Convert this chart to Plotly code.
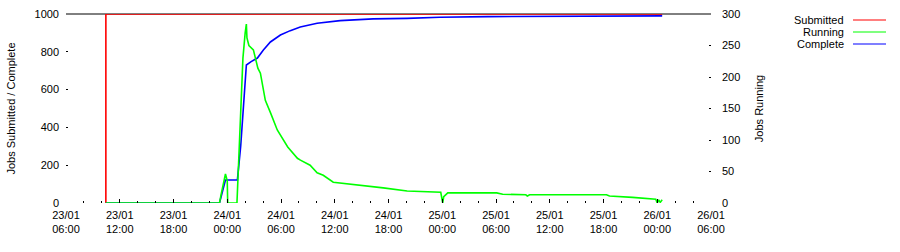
import plotly.graph_objects as go

# ---------------- data ----------------
series_names = ["Submitted", "Running", "Complete"]
series_colors = ["#ff0000", "#00ff00", "#0000ff"]

submitted_t = ["2009-01-23 10:27:00", "2009-01-23 10:27:01", "2009-01-26 00:33:00"]
submitted_v = [0, 1000, 1000]

running_t = [
    "2009-01-23 10:27", "2009-01-23 23:08", "2009-01-23 23:20", "2009-01-23 23:35",
    "2009-01-23 23:48", "2009-01-24 00:00", "2009-01-24 00:03", "2009-01-24 01:05",
    "2009-01-24 01:15", "2009-01-24 01:30", "2009-01-24 01:45", "2009-01-24 02:00",
    "2009-01-24 02:08", "2009-01-24 02:12", "2009-01-24 02:25", "2009-01-24 02:55",
    "2009-01-24 03:25", "2009-01-24 03:42", "2009-01-24 04:15", "2009-01-24 04:50",
    "2009-01-24 05:35", "2009-01-24 06:45", "2009-01-24 07:10", "2009-01-24 07:50",
    "2009-01-24 08:10", "2009-01-24 09:15", "2009-01-24 10:02", "2009-01-24 10:43",
    "2009-01-24 11:50", "2009-01-24 14:30", "2009-01-24 17:25", "2009-01-24 20:05",
    "2009-01-24 22:40", "2009-01-24 23:50", "2009-01-25 00:03", "2009-01-25 00:10",
    "2009-01-25 00:37", "2009-01-25 06:05", "2009-01-25 06:45", "2009-01-25 09:20",
    "2009-01-25 09:30", "2009-01-25 09:45", "2009-01-25 18:20", "2009-01-25 18:40",
    "2009-01-25 21:15", "2009-01-25 22:45", "2009-01-25 23:50", "2009-01-26 00:00",
    "2009-01-26 00:10", "2009-01-26 00:20", "2009-01-26 00:33",
]
running_v = [
    0, 0, 15, 30,
    46, 35, 0, 0,
    60, 150, 230, 270,
    284, 262, 250, 243,
    214, 206, 163, 143,
    116, 89, 82, 71,
    68, 60, 48, 44,
    33, 29, 24, 19,
    18, 17, 0, 10,
    16, 16, 14, 13,
    11, 13, 13, 11,
    9, 7, 6, 0,
    5, 1, 5,
]

complete_t = [
    "2009-01-23 10:27", "2009-01-23 23:08", "2009-01-23 23:48", "2009-01-24 01:08",
    "2009-01-24 01:30", "2009-01-24 01:50", "2009-01-24 02:08", "2009-01-24 02:40",
    "2009-01-24 03:22", "2009-01-24 04:02", "2009-01-24 04:49", "2009-01-24 05:56",
    "2009-01-24 07:02", "2009-01-24 08:09", "2009-01-24 09:16", "2009-01-24 10:02",
    "2009-01-24 12:36", "2009-01-24 16:17", "2009-01-24 20:04", "2009-01-24 23:44",
    "2009-01-25 05:04", "2009-01-25 17:30", "2009-01-26 00:33",
]
complete_v = [
    0, 0, 122, 122,
    300, 560, 730, 748,
    767, 810, 852, 889,
    912, 931, 942, 951,
    965, 974, 977, 983,
    986, 988, 990,
]

x_tick_vals = [
    "2009-01-23 06:00", "2009-01-23 12:00", "2009-01-23 18:00", "2009-01-24 00:00",
    "2009-01-24 06:00", "2009-01-24 12:00", "2009-01-24 18:00", "2009-01-25 00:00",
    "2009-01-25 06:00", "2009-01-25 12:00", "2009-01-25 18:00", "2009-01-26 00:00",
    "2009-01-26 06:00",
]
x_tick_text = [
    "23/01<br>06:00", "23/01<br>12:00", "23/01<br>18:00", "24/01<br>00:00",
    "24/01<br>06:00", "24/01<br>12:00", "24/01<br>18:00", "25/01<br>00:00",
    "25/01<br>06:00", "25/01<br>12:00", "25/01<br>18:00", "26/01<br>00:00",
    "26/01<br>06:00",
]
left_ticks = [0, 200, 400, 600, 800, 1000]
right_ticks = [0, 50, 100, 150, 200, 250, 300]

# ---------------- figure ----------------
FONT = dict(family="Liberation Sans, Arial, sans-serif", size=11, color="black")

fig = go.Figure()
fig.add_trace(go.Scatter(x=submitted_t, y=submitted_v, mode="lines", name=series_names[0],
                         line=dict(color=series_colors[0], width=1.6), showlegend=False))
fig.add_trace(go.Scatter(x=running_t, y=running_v, mode="lines", name=series_names[1],
                         line=dict(color=series_colors[1], width=1.6),
                         yaxis="y2", showlegend=False))
fig.add_trace(go.Scatter(x=complete_t, y=complete_v, mode="lines", name=series_names[2],
                         line=dict(color=series_colors[2], width=1.6),
                         showlegend=False))

L, R, T, B = 66, 189, 14, 49
W, H = 900, 252
pw = W - L - R
ph = H - T - B

def px_x(p):
    return (p - L) / pw

def px_y(q):
    return (H - B - q) / ph

fig.update_layout(
    template="none",
    width=W, height=H,
    margin=dict(l=L, r=R, t=T, b=B, pad=0),
    paper_bgcolor="white", plot_bgcolor="white",
    font=FONT,
    showlegend=False,
    xaxis=dict(
        type="date", automargin=False,
        range=["2009-01-23 06:00", "2009-01-26 06:00"],
        tickvals=x_tick_vals, ticktext=x_tick_text,
        ticks="inside", ticklen=4, tickcolor="black", tickwidth=1,
        minor=dict(dtick=2 * 3600 * 1000, ticks="inside", ticklen=2, tickcolor="black",
                   showgrid=False),
        showgrid=False, zeroline=False, showline=False,
        tickfont=FONT, ticklabelstandoff=4,
    ),
    yaxis=dict(
        range=[0, 1000], tickvals=left_ticks, automargin=False,
        ticks="inside", ticklen=2, tickcolor="black",
        showgrid=False, zeroline=False, showline=False,
        tickfont=FONT, ticklabelstandoff=6,
        title=dict(text="Jobs Submitted / Complete", font=FONT, standoff=16),
    ),
    yaxis2=dict(
        range=[0, 300], tickvals=right_ticks, overlaying="y", side="right",
        automargin=False,
        ticks="inside", ticklen=2, tickcolor="black",
        showgrid=False, zeroline=False, showline=False,
        tickfont=FONT, ticklabelstandoff=10,
        title=dict(text="Jobs Running", font=FONT, standoff=15),
    ),
)

# top border line
fig.add_shape(type="line", xref="paper", yref="paper", x0=0, x1=1, y0=1, y1=1,
              line=dict(color="black", width=1), layer="below")

# gnuplot-style key: text right-aligned, sample line to the right
for i, (name, col) in enumerate(zip(series_names, series_colors)):
    yy = px_y(20 + 12 * i)
    fig.add_annotation(xref="paper", yref="paper", x=px_x(846), y=yy, text=name,
                       showarrow=False, xanchor="right", yanchor="middle", font=FONT)
    fig.add_shape(type="line", xref="paper", yref="paper", x0=px_x(853), x1=px_x(886),
                  y0=yy, y1=yy, line=dict(color=col, width=1.2))

fig.write_html("out.html")
